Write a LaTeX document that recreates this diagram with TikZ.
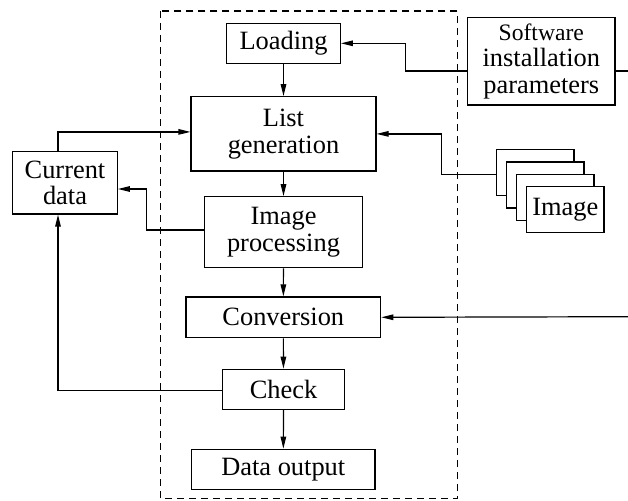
\documentclass[tikz,border=0pt]{standalone}
\usepackage{fontspec}
\setmainfont{Liberation Serif}
\usetikzlibrary{arrows.meta,positioning}
\begin{document}
\begin{tikzpicture}[x=1pt,y=-1pt,
  every node/.style={font=\fontsize{26.4}{26.7}\selectfont},
  box/.style={draw,line width=1.2pt,fill=white,inner sep=0pt,align=center},
  conn/.style={line width=1.2pt},
  arr/.style={line width=1.2pt,-{Triangle[length=12pt,width=5.5pt]}},
  frame/.style={line width=1.1pt,dash pattern=on 7pt off 5pt}]
\useasboundingbox (0,0) rectangle (628,500);
\draw[frame] (160.7,11) rectangle (457.7,498.3);
% main chain
\node[box,minimum width=113.6pt,minimum height=40pt] (load) at (283.5,43.3) {Loading};
\node[box,minimum width=185pt,minimum height=74.3pt] (list) at (283.5,133.9) {List\\generation};
\node[box,minimum width=158.4pt,minimum height=71pt] (proc) at (283.5,232.2) {Image\\processing};
\node[box,minimum width=194.7pt,minimum height=40.7pt] (conv) at (283.3,317.3) {Conversion};
\node[box,minimum width=121.6pt,minimum height=40pt] (check) at (283.5,389.3) {Check};
\node[box,minimum width=183.3pt,minimum height=40pt] (out) at (283.3,469.3) {Data output};
% side boxes
\node[box,minimum width=104.6pt,minimum height=62.3pt] (cur) at (65,182.8) {Current\\data};
\node[box,minimum width=147.3pt,minimum height=87.3pt] (soft) at (541.3,61.3) {{\fontsize{23.6}{23.6}\selectfont Software}\\installation\\parameters};
% image stack
\node[box,minimum width=77.5pt,minimum height=46pt] (img1) at (535.2,172.7) {};
\node[box,minimum width=77.5pt,minimum height=46pt] (img2) at (545.2,184.9) {};
\node[box,minimum width=77.5pt,minimum height=46pt] (img3) at (555.2,197.1) {};
\node[box,minimum width=77.5pt,minimum height=46pt] (img4) at (565.3,209.5) {Image};
% free ends
\coordinate (softout) at (628,71);
\coordinate (convin) at (628,316.7);
% vertical chain
\draw[arr] (load) -- (list);
\draw[arr] (list) -- (proc);
\draw[arr] (proc) -- (conv);
\draw[arr] (conv) -- (check);
\draw[arr] (check) -- (out);
% connectors
\draw[arr] ([yshift=-9.7pt]soft.west) -- ++(-61.7,0) |- (load.east);
\draw[conn] ([yshift=-9.7pt]soft.east) -- (softout);
\draw[arr] ([yshift=-1.6pt]img1.west) -- ++(-54.6,0) |- (list.east);
\draw[arr] ([xshift=-7pt]cur.north) |- ([yshift=2pt]list.west);
\draw[arr] ([yshift=2.2pt]proc.west) -- ++(-57.6,0) |- ([yshift=-6.2pt]cur.east);
\draw[arr] ([yshift=-1.4pt]check.west) -| ([xshift=-7pt]cur.south);
\draw[arr] (convin) -- (conv.east);
\end{tikzpicture}
\end{document}
